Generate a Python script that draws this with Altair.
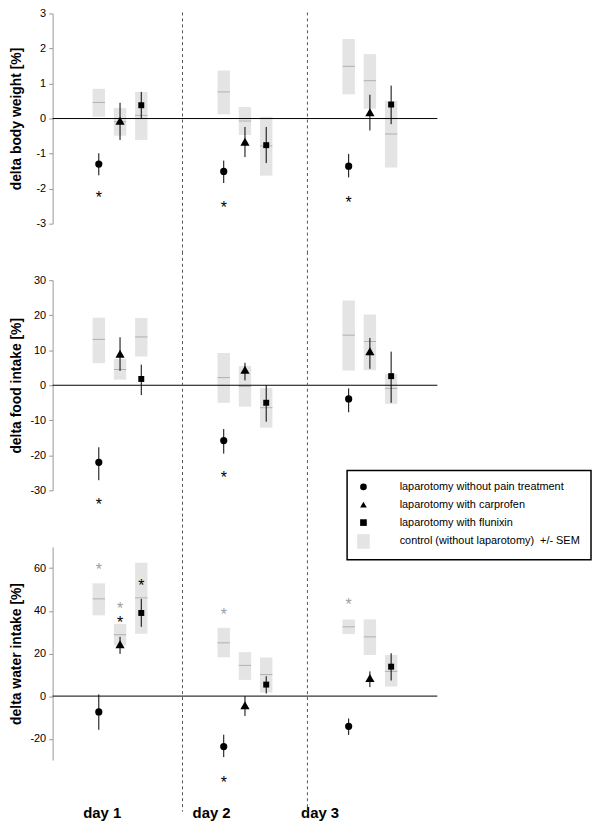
import altair as alt
import pandas as pd

FONT = "Liberation Sans"

# ---------------- categories ----------------
day_index = [1, 2, 3]
day_labels = ["day 1", "day 2", "day 3"]
day_label_pos = [0.853, 1.729, 2.597]
separators = [1.5, 2.5]
groups = [
    "laparotomy without pain treatment",
    "laparotomy with carprofen",
    "laparotomy with flunixin",
]
control_name = "control (without laparotomy)\u00a0\u00a0+/- SEM"
group_offset = [-0.17, 0.0, 0.17]

# ---------------- delta body weight [%] ----------------
# rows: groups (no treatment, carprofen, flunixin); columns: day 1..3
bw_mean = [[-1.30, -1.51, -1.36], [-0.06, -0.66, 0.18], [0.38, -0.76, 0.40]]
bw_err_low = [[-1.62, -1.84, -1.68], [-0.61, -1.10, -0.34], [0.00, -1.27, -0.16]]
bw_err_high = [[-0.99, -1.20, -1.01], [0.45, -0.24, 0.68], [0.76, -0.24, 0.94]]
bw_ctrl_mean = [[0.46, 0.76, 1.49], [-0.09, -0.07, 1.08], [0.09, -0.78, -0.44]]
bw_ctrl_low = [[0.05, 0.12, 0.69], [-0.49, -0.47, 0.28], [-0.61, -1.63, -1.40]]
bw_ctrl_high = [[0.85, 1.37, 2.27], [0.30, 0.33, 1.84], [0.76, 0.05, 0.50]]
bw_stars = [(0, 0, -2.17, "treatment"), (0, 1, -2.45, "treatment"), (0, 2, -2.31, "treatment")]

# ---------------- delta food intake [%] ----------------
fi_mean = [[-22.0, -15.8, -3.9], [9.0, 4.4, 9.7], [1.8, -5.0, 2.6]]
fi_err_low = [[-27.1, -19.5, -7.7], [4.1, 1.4, 4.7], [-2.8, -10.4, -5.0]]
fi_err_high = [[-17.7, -12.5, -0.9], [13.7, 6.4, 13.5], [5.9, 0.0, 9.6]]
fi_ctrl_mean = [[13.1, 2.2, 14.3], [4.5, -0.3, 12.5], [13.8, -6.4, -0.9]]
fi_ctrl_low = [[6.3, -5.0, 4.2], [1.6, -6.1, 4.3], [8.2, -12.1, -5.3]]
fi_ctrl_high = [[19.3, 9.2, 24.2], [7.5, 5.5, 20.2], [19.2, -0.8, 3.2]]
fi_stars = [(0, 0, -33.0, "treatment"), (0, 1, -25.3, "treatment")]

# ---------------- delta water intake [%] ----------------
wi_mean = [[-7.4, -23.7, -14.2], [24.3, -4.3, 8.5], [39.0, 5.4, 13.8]]
wi_err_low = [[-15.8, -28.6, -18.2], [19.8, -9.3, 4.2], [32.5, 1.2, 7.3]]
wi_err_high = [[0.8, -18.1, -10.5], [27.8, 0.0, 11.6], [45.6, 9.3, 20.1]]
wi_ctrl_mean = [[45.6, 25.0, 32.5], [28.8, 14.4, 27.8], [46.1, 10.1, 11.6]]
wi_ctrl_low = [[37.9, 18.2, 29.1], [23.7, 7.6, 19.3], [29.2, 1.7, 4.5]]
wi_ctrl_high = [[52.9, 32.0, 35.9], [33.9, 20.6, 36.0], [62.6, 18.1, 19.3]]
wi_stars = [
    (0, 0, 61.1, "control"), (1, 0, 42.5, "control"), (0, 1, 39.9, "control"), (0, 2, 44.8, "control"),
    (1, 0, 36.3, "treatment"), (2, 0, 53.3, "treatment"), (0, 1, -38.7, "treatment"),
]

# marker area (style) per group
marker_area = {groups[0]: 53, groups[1]: 86, groups[2]: 36}


def frames(mean, lo, hi, cmean, clo, chi, stars):
    pts, ctrl = [], []
    for g in range(3):
        for d in range(3):
            pos = day_index[d] + group_offset[g]
            pts.append(dict(series=groups[g], pos=pos, mean=mean[g][d], lo=lo[g][d], hi=hi[g][d],
                            msize=marker_area[groups[g]]))
            ctrl.append(dict(pos=pos, cmean=cmean[g][d], clo=clo[g][d], chi=chi[g][d]))
    st = [dict(pos=day_index[d] + group_offset[g], val=v, kind=k) for g, d, v, k in stars]
    return pd.DataFrame(pts), pd.DataFrame(ctrl), pd.DataFrame(st)


series_domain = groups + [control_name]
shape_scale = alt.Scale(domain=series_domain,
                        range=["circle", "triangle-up", "square", "M-1.9,-2.2H1.9V2.2H-1.9Z"])
fill_scale = alt.Scale(domain=series_domain, range=["black", "black", "black", "#e4e4e4"])
star_scale = alt.Scale(domain=["treatment", "control"], range=["black", "#a0a0a0"])

GAP = 57


def panel(fr, domain, ticks, title, height, legend=None, day_axis=False, sep_top=-GAP / 2, sep_bottom=None):
    pts, ctrl, st = fr
    xscale = alt.Scale(domain=[0.5, 3.5], nice=False, zero=False)
    yscale = alt.Scale(domain=domain, nice=False, zero=False)
    if day_axis:
        m1 = (day_label_pos[0] + day_label_pos[1]) / 2
        m2 = (day_label_pos[1] + day_label_pos[2]) / 2
        xaxis = alt.Axis(
            values=day_label_pos,
            labelExpr=f"datum.value < {m1} ? '{day_labels[0]}' : (datum.value < {m2} ? '{day_labels[1]}' : '{day_labels[2]}')",
            domain=False, ticks=False, tickSize=0, grid=False, title=None,
            labelFontSize=15, labelFontWeight="bold", labelColor="black",
            labelPadding=46, labelFont=FONT,
        )
    else:
        xaxis = None
    yaxis = alt.Axis(
        values=ticks, grid=False, title=title,
        labelExpr="replace(datum.label, '\u2212', '-')",
        domainColor="#999999", tickColor="#999999", tickSize=4,
        labelFontSize=11, labelColor="black", labelPadding=3, labelFont=FONT,
        titleFontSize=14, titleFontWeight="bold", titleColor="black", titleFont=FONT,
        titleX=-36, titleY=height / 2, titleAngle=270, titleAlign="center", titleBaseline="middle",
    )
    if sep_bottom is None:
        sep_bottom = height + GAP / 2

    def X():
        return alt.X("pos:Q", scale=xscale, axis=xaxis)

    def Y(field):
        return alt.Y(field, scale=yscale, axis=yaxis)

    boxes = alt.Chart(ctrl).mark_bar(size=12.5, color="#e4e4e4").encode(
        x=X(), y=Y("clo:Q"), y2="chi:Q")
    means = alt.Chart(ctrl).mark_tick(orient="horizontal", size=12.5, thickness=1, color="#9a9a9a").encode(
        x=X(), y=Y("cmean:Q"))
    zero = alt.Chart(pd.DataFrame({"v": [0]})).mark_rule(color="black", strokeWidth=1).encode(
        y=Y("v:Q"))
    seps = alt.Chart(pd.DataFrame({"pos": separators})).mark_rule(
        color="#555555", strokeDash=[3, 3], strokeWidth=1).encode(
        x=X(), y=alt.value(sep_top), y2=alt.value(sep_bottom))
    errs = alt.Chart(pts).mark_rule(color="black", strokeWidth=1).encode(
        x=X(), y=Y("lo:Q"), y2="hi:Q")
    points = alt.Chart(pts).mark_point(filled=True, opacity=1, strokeWidth=0).encode(
        x=X(), y=Y("mean:Q"),
        shape=alt.Shape("series:N", scale=shape_scale, legend=legend),
        fill=alt.Fill("series:N", scale=fill_scale, legend=legend),
        size=alt.Size("msize:Q", scale=None, legend=None),
    )
    stars = alt.Chart(st).mark_text(text="*", fontSize=16, dy=9, baseline="alphabetic", font=FONT).encode(
        x=X(), y=Y("val:Q"),
        color=alt.Color("kind:N", scale=star_scale, legend=None))
    return alt.layer(boxes, means, zero, seps, errs, points, stars).properties(width=388, height=height)


legend = alt.Legend(
    orient="none", legendX=297, legendY=192, direction="vertical", title=None,
    labelFontSize=11, labelFont=FONT, labelColor="black", labelLimit=400,
    symbolSize=45, padding=11, rowPadding=6, labelOffset=31,
    strokeColor="black", fillColor="white", symbolStrokeWidth=0,
)

top = panel(frames(bw_mean, bw_err_low, bw_err_high, bw_ctrl_mean, bw_ctrl_low, bw_ctrl_high, bw_stars),
            [-3, 3], [-3, -2, -1, 0, 1, 2, 3], "delta body weight [%]", 212, sep_top=-1)
mid = panel(frames(fi_mean, fi_err_low, fi_err_high, fi_ctrl_mean, fi_ctrl_low, fi_ctrl_high, fi_stars),
            [-30, 30], [-30, -20, -10, 0, 10, 20, 30], "delta food intake [%]", 212, legend=legend)
bot = panel(frames(wi_mean, wi_err_low, wi_err_high, wi_ctrl_mean, wi_ctrl_low, wi_ctrl_high, wi_stars),
            [-30, 70], [-20, 0, 20, 40, 60], "delta water intake [%]", 215, day_axis=True, sep_bottom=215 + 52)

chart = alt.vconcat(top, mid, bot, spacing=GAP, bounds="flush").resolve_scale(
    shape="independent", fill="independent", color="independent"
).resolve_legend(
    shape="independent", fill="independent"
).properties(
    padding={"left": 2, "top": -4, "right": 0, "bottom": 0}
).configure_view(stroke=None).configure_legend(strokeWidth=1.5)

chart.save("out.html", embed_options={"renderer": "svg", "actions": False})
